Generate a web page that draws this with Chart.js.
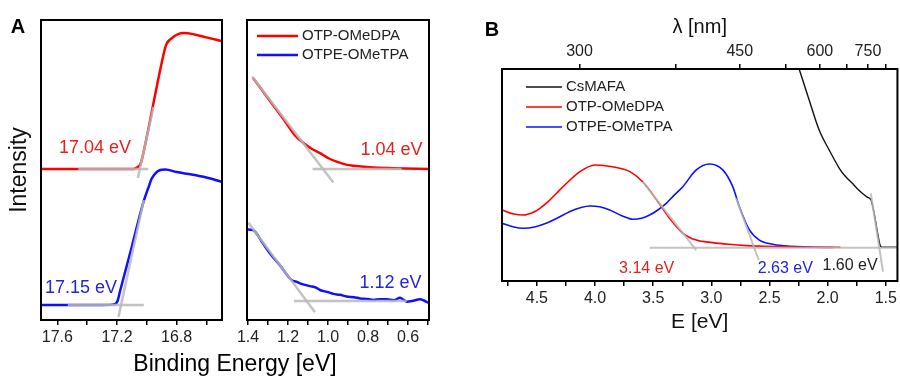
<!DOCTYPE html>
<html><head><meta charset="utf-8">
<script src="https://cdn.jsdelivr.net/npm/chart.js@4.4.1/dist/chart.umd.min.js"></script>
<style>
html,body{margin:0;padding:0;background:#fff;}
#wrap{position:relative;width:900px;height:376px;overflow:hidden;}
#wrap canvas{position:absolute;left:0;top:0;}
</style></head><body>
<div id="wrap">
<canvas id="cAL" width="900" height="376"></canvas>
<canvas id="cAR" width="900" height="376"></canvas>
<canvas id="cB" width="900" height="376"></canvas>
</div>
<script>
// ---------- Panel A (left): secondary electron cut-off ----------
const secoTicks = [17.6, 17.4, 17.2, 17.0, 16.8, 16.6];
const secoTickLabels = [17.6, 17.2, 16.8];
const secoE_red  = [17.71, 17.09, 17.06, 17.04, 17.00, 16.96, 16.90, 16.87, 16.83, 16.79, 16.75, 16.68, 16.60, 16.50];
const secoI_red  = [50.3, 50.3, 51.0, 52.3, 61.0, 71.0, 85.7, 91.7, 94.0, 95.3, 95.7, 95.2, 94.2, 93.0];
const secoE_blue = [17.71, 17.30, 17.215, 17.195, 17.18, 17.10, 17.022, 16.99, 16.966, 16.91, 16.876, 16.80, 16.70, 16.60, 16.50];
const secoI_blue = [5.0, 5.0, 5.3, 6.5, 9.5, 24.5, 39.4, 44.0, 47.2, 50.0, 50.2, 49.3, 48.5, 47.5, 46.1];
const secoFitRedBaseE = [17.46, 16.99],  secoFitRedBaseI = [50.3, 50.3];
const secoFitRedSlopeE = [17.06, 16.955], secoFitRedSlopeI = [47.3, 71.0];
const secoFitBlueBaseE = [17.53, 17.02], secoFitBlueBaseI = [5.0, 5.0];
const secoFitBlueSlopeE = [17.19, 17.02], secoFitBlueSlopeI = [1.0, 40.0];

// ---------- Panel A (right): valence band onset ----------
const vbTicks = [1.4, 1.3, 1.2, 1.1, 1.0, 0.9, 0.8, 0.7, 0.6, 0.5];
const vbTickLabels = [1.4, 1.2, 1.0, 0.8, 0.6];
const vbE_red  = [1.375, 1.29, 1.223, 1.19, 1.16, 1.123, 1.08, 1.04, 1.00, 0.957, 0.91, 0.873, 0.79, 0.675, 0.495];
const vbI_red  = [80.7, 73.0, 67.0, 63.8, 61.2, 59.0, 57.0, 55.6, 54.0, 52.8, 51.8, 51.4, 50.9, 50.6, 50.3];
const vbE_blue = [1.405, 1.375, 1.33, 1.29, 1.235, 1.182, 1.16, 1.14, 1.09, 1.06, 1.04, 1.00, 0.973, 0.94, 0.907, 0.87, 0.84, 0.80, 0.773, 0.74, 0.707, 0.67, 0.64, 0.62, 0.607, 0.58, 0.54, 0.52, 0.495];
const vbI_blue = [30.2, 30.0, 26.0, 22.2, 17.8, 13.3, 12.8, 12.2, 11.3, 10.8, 10.0, 9.3, 8.7, 8.4, 7.8, 7.6, 7.2, 7.0, 6.7, 6.9, 6.9, 6.6, 7.4, 6.6, 6.1, 6.3, 6.9, 6.5, 5.6];
const vbFitRedSlopeE = [1.38, 0.973], vbFitRedSlopeI = [81.2, 45.8];
const vbFitRedBaseE = [1.077, 0.632], vbFitRedBaseI = [50.3, 50.3];
const vbFitBlueSlopeE = [1.398, 1.065], vbFitBlueSlopeI = [32.4, 2.6];
const vbFitBlueBaseE = [1.17, 0.607], vbFitBlueBaseI = [6.3, 6.3];

// ---------- Panel B: absorption onsets ----------
const absTicks = [4.75, 4.5, 4.25, 4.0, 3.75, 3.5, 3.25, 3.0, 2.75, 2.5, 2.25, 2.0, 1.75, 1.5];
const absTickLabels = [4.5, 4.0, 3.5, 3.0, 2.5, 2.0, 1.5];
const lambdaTicks = [300, 375, 450, 525, 600, 675, 750, 825];
const lambdaTickLabels = [300, 450, 600, 750];
const absE_black = [2.26, 2.245, 2.159, 2.073, 1.987, 1.901, 1.85, 1.79, 1.74, 1.70, 1.66, 1.627, 1.601, 1.575, 1.55, 1.533, 1.40];
const absA_black = [102.6, 100.0, 85.4, 71.2, 61.8, 53.3, 49.5, 46.2, 43.3, 41.3, 39.6, 38.2, 32.1, 24.0, 17.0, 16.0, 16.0];
const absE_red = [4.80, 4.70, 4.617, 4.531, 4.474, 4.403, 4.331, 4.245, 4.13, 4.00, 3.85, 3.70, 3.59, 3.47, 3.36, 3.245, 3.13, 2.99, 2.85, 2.70, 2.55, 2.42, 2.13, 1.89];
const absA_red = [33.5, 31.6, 31.1, 32.4, 34.3, 37.4, 41.4, 46.1, 51.6, 54.7, 53.9, 51.6, 46.8, 38.2, 29.6, 22.5, 19.3, 18.1, 17.3, 16.7, 16.4, 16.2, 15.9, 15.9];
const absE_blue = [4.80, 4.70, 4.62, 4.52, 4.42, 4.32, 4.22, 4.12, 4.045, 3.96, 3.874, 3.77, 3.674, 3.60, 3.531, 3.46, 3.388, 3.32, 3.245, 3.13, 3.016, 2.902, 2.816, 2.759, 2.673, 2.587, 2.473, 2.37, 2.273, 2.13, 1.95];
const absA_blue = [27.2, 25.5, 24.9, 25.5, 27.2, 29.8, 32.7, 34.7, 35.4, 35.0, 33.5, 30.8, 29.1, 29.6, 31.1, 33.5, 36.6, 40.5, 44.5, 52.4, 55.2, 52.4, 44.5, 35.0, 24.1, 19.3, 17.3, 16.6, 16.2, 15.9, 15.8];
const absFitBaseE = [3.53, 1.40], absFitBaseA = [15.7, 15.7];
const absFitRedE = [3.59, 3.13], absFitRedA = [46.8, 14.6];
const absFitBlueE = [2.787, 2.593], absFitBlueA = [39.0, 9.9];
const absFitBlackE = [1.629, 1.524], absFitBlackA = [41.4, 4.4];

// ---------------------------------------------------------------
const FONT = "'Liberation Sans', Arial, Helvetica, sans-serif";
Chart.defaults.font.family = FONT;
Chart.defaults.color = '#222';
Chart.defaults.animation = false;

const RED = '#ff0000', BLUE = '#1010ff', BLACK = '#111', FIT = 'rgba(185,185,185,0.85)';
const xy = (xs, ys) => xs.map((x, i) => ({x, y: ys[i]}));

function curve(label, xs, ys, color, w) {
  return {label, data: xy(xs, ys), borderColor: color, backgroundColor: color, borderWidth: w,
          pointRadius: 0, cubicInterpolationMode: 'monotone', fill: false, order: 1};
}
function fit(xs, ys, w) {
  return {label: 'fit', isFit: true, data: xy(xs, ys), borderColor: FIT, borderWidth: w,
          pointRadius: 0, tension: 0, fill: false, order: 0};
}

const framePlugin = {
  id: 'frame',
  afterDraw(chart) {
    const {ctx, chartArea: a} = chart;
    ctx.save(); ctx.strokeStyle = '#000'; ctx.lineWidth = 2;
    ctx.strokeRect(a.left, a.top, a.right - a.left, a.bottom - a.top);
    ctx.restore();
  }
};
const evLabels = {
  id: 'evLabels',
  afterDatasetsDraw(chart, args, o) {
    const {ctx, scales} = chart;
    ctx.save(); ctx.font = o.fontSpec; ctx.textAlign = 'center'; ctx.textBaseline = 'middle';
    for (const l of o.items) {
      ctx.fillStyle = l.color;
      ctx.fillText(l.text, scales.x.getPixelForValue(l.x), scales.y.getPixelForValue(l.y));
    }
    ctx.restore();
  }
};
const lineLegend = {
  id: 'lineLegend',
  afterDraw(chart, args, o) {
    if (!o.show) return;
    const {ctx, chartArea: a} = chart;
    const items = chart.data.datasets.filter(d => !d.isFit);
    ctx.save(); ctx.font = o.fontSpec; ctx.textBaseline = 'middle'; ctx.textAlign = 'left';
    items.forEach((d, i) => {
      const y = a.top + o.dy + i * o.gap, x0 = a.left + o.dx;
      ctx.strokeStyle = d.borderColor; ctx.lineWidth = o.lw;
      ctx.beginPath(); ctx.moveTo(x0, y); ctx.lineTo(x0 + o.len, y); ctx.stroke();
      ctx.fillStyle = '#222'; ctx.fillText(d.label, x0 + o.len + 4, y);
    });
    ctx.restore();
  }
};
const panelText = {
  id: 'panelText',
  afterDraw(chart, args, o) {
    const {ctx} = chart;
    ctx.save(); ctx.textAlign = 'center'; ctx.textBaseline = 'middle'; ctx.fillStyle = '#000';
    for (const t of o.items) {
      ctx.font = t.fontSpec;
      const x = typeof t.x === 'function' ? t.x(chart) : t.x;
      const y = typeof t.y === 'function' ? t.y(chart) : t.y;
      ctx.fillText(t.text, x, y);
    }
    ctx.restore();
  }
};

function xAxis(min, max, tickVals, labelVals, digits, height, extra) {
  return Object.assign({
    type: 'linear', position: 'bottom', reverse: true, min, max,
    afterBuildTicks: s => { s.ticks = tickVals.map(v => ({value: v})); },
    afterFit: s => { s.height = height; },
    ticks: {
      autoSkip: false, maxRotation: 0, padding: 3, color: '#222', font: {size: 16},
      callback: v => labelVals.some(l => Math.abs(l - v) < 1e-6) ? v.toFixed(digits) : ''
    },
    grid: {display: true, drawOnChartArea: false, drawTicks: true, tickLength: 5, color: '#000', lineWidth: 1.5},
    border: {display: false}
  }, extra || {});
}

// ---------- Chart A-left ----------
const chartAL = new Chart(document.getElementById('cAL'), {
  type: 'line',
  data: {datasets: [
    fit(secoFitRedBaseE, secoFitRedBaseI, 2.5), fit(secoFitRedSlopeE, secoFitRedSlopeI, 2.5),
    fit(secoFitBlueBaseE, secoFitBlueBaseI, 2.5), fit(secoFitBlueSlopeE, secoFitBlueSlopeI, 2.5),
    curve('OTP-OMeDPA', secoE_red, secoI_red, RED, 2.5),
    curve('OTPE-OMeTPA', secoE_blue, secoI_blue, BLUE, 2.5)
  ]},
  options: {
    responsive: false, animation: false,
    layout: {padding: {left: 4, right: 678, top: 20, bottom: 26}},
    scales: {
      x: xAxis(16.495, 17.71, secoTicks, secoTickLabels, 1, 30),
      y: {min: 0, max: 100, display: true,
          afterFit: s => { s.width = 37; },
          ticks: {display: false}, grid: {display: false}, border: {display: false},
          title: {display: true, text: 'Intensity', font: {size: 23}, color: '#111', padding: {top: 2, bottom: 0}}}
    },
    plugins: {
      legend: {display: false}, tooltip: {enabled: false},
      evLabels: {fontSpec: "18px " + FONT, items: [
        {text: '17.04 eV', x: 17.347, y: 57.3, color: '#e8201f'},
        {text: '17.15 eV', x: 17.441, y: 10.7, color: '#2323e0'}]},
      panelText: {items: [{text: 'A', x: 18, y: 27, fontSpec: "bold 20px " + FONT}]}
    }
  },
  plugins: [framePlugin, evLabels, panelText]
});

// ---------- Chart A-right ----------
new Chart(document.getElementById('cAR'), {
  type: 'line',
  data: {datasets: [
    fit(vbFitRedSlopeE, vbFitRedSlopeI, 2.5), fit(vbFitRedBaseE, vbFitRedBaseI, 2.5),
    fit(vbFitBlueSlopeE, vbFitBlueSlopeI, 2.5), fit(vbFitBlueBaseE, vbFitBlueBaseI, 2.5),
    curve('OTP-OMeDPA', vbE_red, vbI_red, RED, 2.5),
    curve('OTPE-OMeTPA', vbE_blue, vbI_blue, BLUE, 2.5)
  ]},
  options: {
    responsive: false, animation: false,
    layout: {padding: {left: 247, right: 471, top: 20, bottom: 26}},
    scales: {
      x: xAxis(0.495, 1.405, vbTicks, vbTickLabels, 1, 30),
      y: {min: 0, max: 100, display: false}
    },
    plugins: {
      legend: {display: false}, tooltip: {enabled: false},
      evLabels: {fontSpec: "18px " + FONT, items: [
        {text: '1.04 eV', x: 0.682, y: 56.7, color: '#e8201f'},
        {text: '1.12 eV', x: 0.687, y: 12.2, color: '#2323e0'}]},
      lineLegend: {show: true, fontSpec: "15px " + FONT, dx: 10, dy: 16, gap: 19, len: 41, lw: 2.5},
      panelText: {items: [{text: 'Binding Energy [eV]', fontSpec: "23px " + FONT,
        x: c => (chartAL.chartArea.left + c.chartArea.right) / 2,
        y: c => c.scales.x.bottom + 15}]}
    }
  },
  plugins: [framePlugin, evLabels, lineLegend, panelText]
});

// ---------- Chart B ----------
new Chart(document.getElementById('cB'), {
  type: 'line',
  data: {datasets: [
    fit(absFitBaseE, absFitBaseA, 2), fit(absFitRedE, absFitRedA, 2),
    fit(absFitBlueE, absFitBlueA, 2), fit(absFitBlackE, absFitBlackA, 2),
    curve('CsMAFA', absE_black, absA_black, BLACK, 1.4),
    curve('OTP-OMeDPA', absE_red, absA_red, RED, 1.6),
    curve('OTPE-OMeTPA', absE_blue, absA_blue, BLUE, 1.6)
  ]},
  options: {
    responsive: false, animation: false,
    layout: {padding: {left: 502, right: 1, top: 15, bottom: 41}},
    scales: {
      x: xAxis(1.40, 4.80, absTicks, absTickLabels, 1, 54, {
        title: {display: true, text: 'E [eV]', font: {size: 21}, color: '#111', padding: {top: 0, bottom: 0}}
      }),
      xTop: {
        type: 'linear', position: 'top', reverse: true, min: 1.40, max: 4.80,
        afterBuildTicks: s => { s.ticks = lambdaTicks.map(l => ({value: 1240 / l})); },
        afterFit: s => { s.height = 54; },
        ticks: {autoSkip: false, maxRotation: 0, padding: 3, color: '#222', font: {size: 16},
          callback: v => { const l = Math.round(1240 / v); return lambdaTickLabels.includes(l) ? String(l) : ''; }},
        grid: {display: true, drawOnChartArea: false, drawTicks: true, tickLength: 5, color: '#000', lineWidth: 1.5},
        border: {display: false},
        title: {display: true, text: 'λ [nm]', font: {size: 20}, color: '#111', padding: {top: 0, bottom: 0}}
      },
      y: {min: 0, max: 100, display: false}
    },
    plugins: {
      legend: {display: false}, tooltip: {enabled: false},
      evLabels: {fontSpec: "16px " + FONT, items: [
        {text: '3.14 eV', x: 3.556, y: 5.7, color: '#e8201f'},
        {text: '2.63 eV', x: 2.364, y: 5.7, color: '#2323e0'},
        {text: '1.60 eV', x: 1.807, y: 7.3, color: '#222'}]},
      lineLegend: {show: true, fontSpec: "15px " + FONT, dx: 24, dy: 18, gap: 20, len: 36, lw: 1.5},
      panelText: {items: [{text: 'B', x: 492, y: 30, fontSpec: "bold 20px " + FONT}]}
    }
  },
  plugins: [framePlugin, evLabels, lineLegend, panelText]
});
</script>
</body></html>
